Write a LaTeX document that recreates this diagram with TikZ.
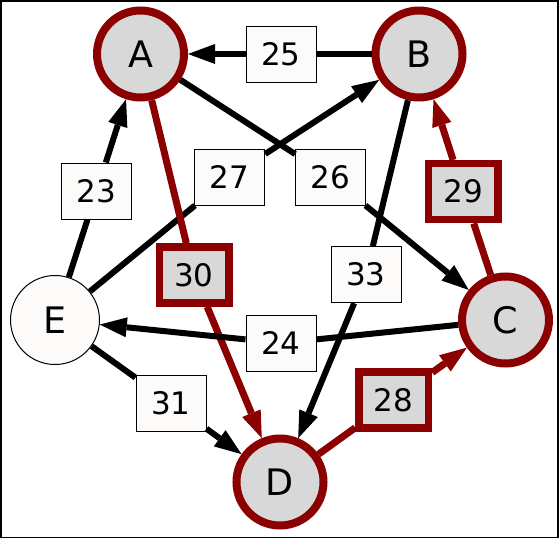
\documentclass[tikz,border=0pt]{standalone}
\usepackage{fontspec}
\setmainfont{DejaVu Sans}
\usetikzlibrary{arrows.meta}
\definecolor{dred}{RGB}{139,0,0}
\definecolor{ngray}{RGB}{216,216,216}
\definecolor{bwhite}{RGB}{252,251,250}
\begin{document}
\begin{tikzpicture}[x=1pt,y=-1pt,
  rnode/.style={circle, draw=dred, line width=8pt, fill=ngray, minimum size=87pt, inner sep=0pt, font=\fontsize{36.5}{40}\selectfont},
  enode/.style={circle, draw=black, line width=1pt, fill=bwhite, minimum size=89pt, inner sep=0pt, font=\fontsize{36.5}{40}\selectfont},
  lbl/.style={draw=black, line width=1pt, fill=bwhite, minimum width=70pt, minimum height=56pt, inner sep=0pt, font=\fontsize{31}{35}\selectfont},
  rlbl/.style={draw=dred, line width=7.5pt, fill=ngray, minimum width=69.5pt, minimum height=56pt, inner sep=0pt, font=\fontsize{31}{35}\selectfont},
  edge/.style={line width=6pt, -{Triangle[length=27pt,width=20pt,line width=0pt]}},
  redge/.style={edge, draw=dred, fill=dred, line width=7pt},
]
\useasboundingbox (0,0) rectangle (560,538);
\draw[line width=1.5pt] (0.75,0.75) rectangle (558,537.25);
% nodes
\node[rnode] (A) at (140.5,54) {A};
\node[rnode] (B) at (419,54) {B};
\node[rnode] (C) at (505.5,320) {C};
\node[rnode] (D) at (280,482) {D};
\node[enode] (E) at (55,320) {E};
% labels
\node[lbl]  (l25) at (281,54) {25};
\node[lbl]  (l23) at (96.7,191) {23};
\node[lbl]  (l27) at (229.7,177) {27};
\node[lbl]  (l26) at (330.7,177) {26};
\node[rlbl] (l29) at (463.3,191.7) {29};
\node[rlbl] (l30) at (194,275) {30};
\node[lbl]  (l33) at (366,274.7) {33};
\node[lbl]  (l24) at (281,343) {24};
\node[lbl]  (l31) at (171,403) {31};
\node[rlbl] (l28) at (393.7,400) {28};
% edges
\draw[edge] (B) -- (l25) -- (A);
\draw[edge] (E) -- (l23) -- (A);
\draw[edge] (E) -- (l27) -- (B);
\draw[edge] (A) -- (l26) -- (C);
\draw[redge] (C) -- (l29) -- (B);
\draw[redge] (A) -- (l30) -- (D);
\draw[edge] (B) -- (l33) -- (D);
\draw[edge] (C) -- (l24) -- (E);
\draw[edge] (E) -- (l31) -- (D);
\draw[redge] (D) -- (l28) -- (C);
\end{tikzpicture}
\end{document}
